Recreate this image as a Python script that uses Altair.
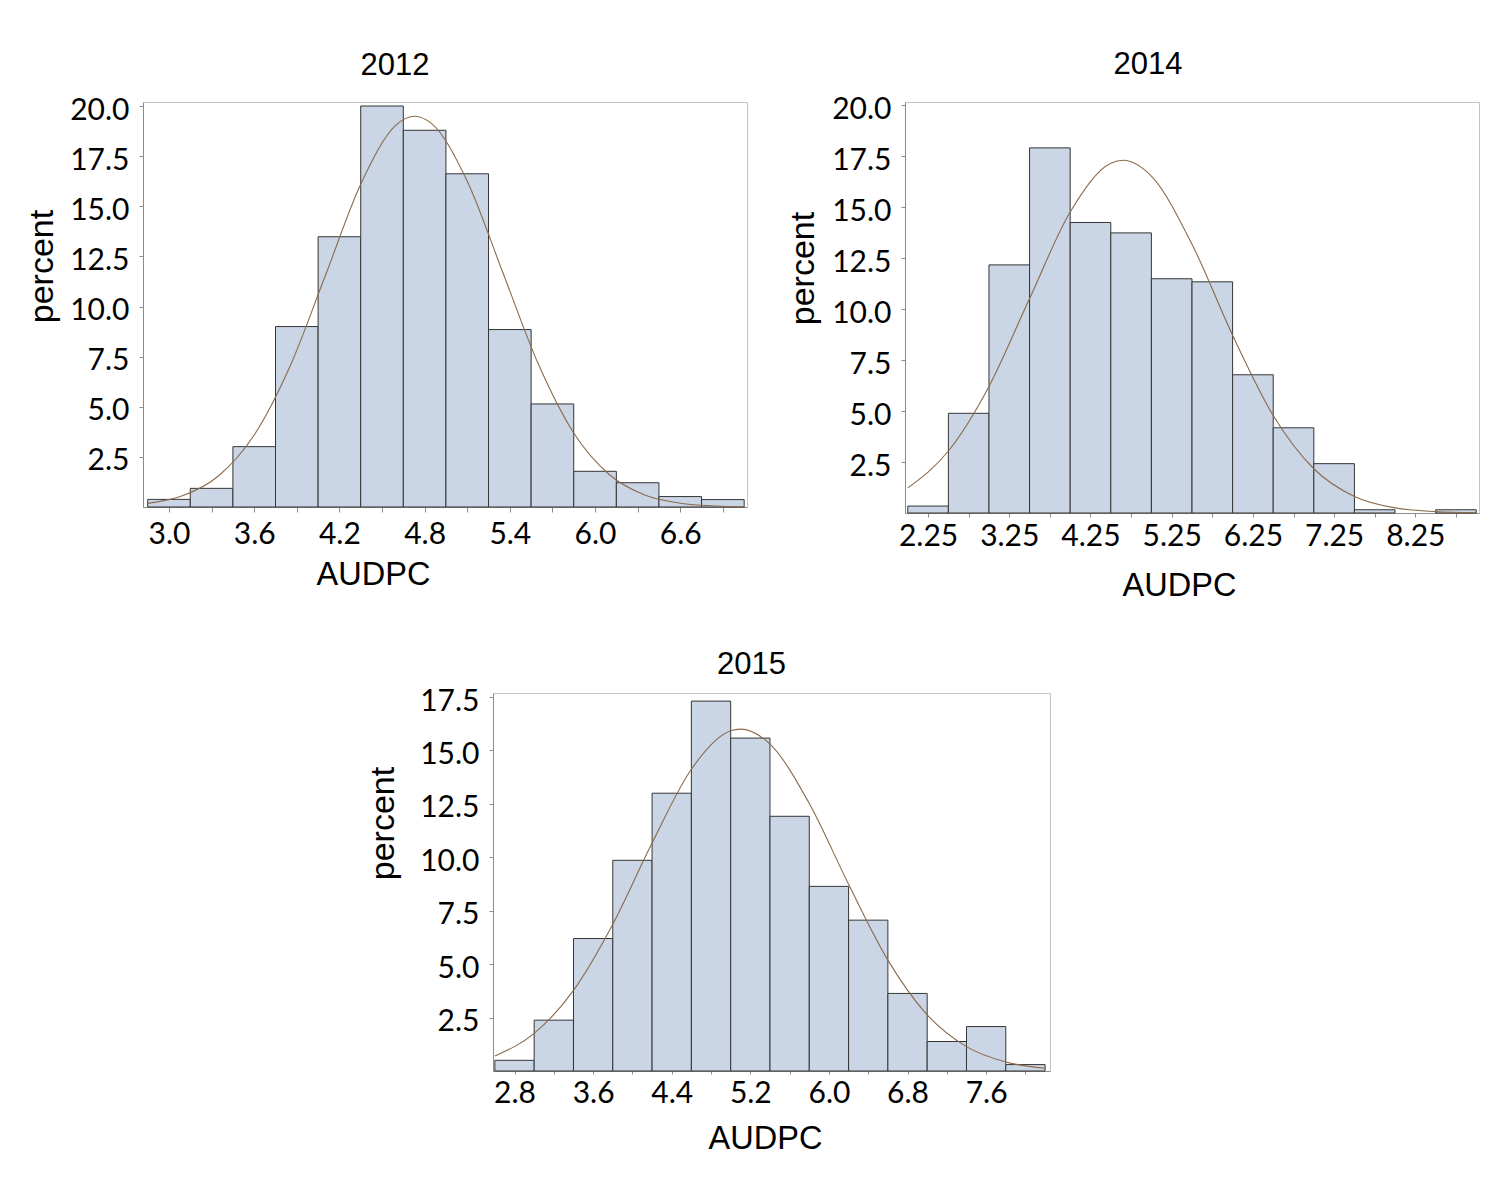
import altair as alt
import pandas as pd

# ---------------- data ----------------
years = ["2012", "2014", "2015"]
bin_widths = [0.3, 0.5, 0.4]

centers_2012 = [3.0, 3.3, 3.6, 3.9, 4.2, 4.5, 4.8, 5.1, 5.4, 5.7, 6.0, 6.3, 6.6, 6.9]
pct_2012 = [0.38, 0.93, 3.01, 9.0, 13.48, 20.0, 18.79, 16.62, 8.85, 5.14, 1.78, 1.21, 0.52, 0.37]
xlabels_2012 = [3.0, 3.6, 4.2, 4.8, 5.4, 6.0, 6.6]
curve_x_2012 = [2.85, 3.1, 3.35, 3.6, 3.85, 4.1, 4.35, 4.6, 4.73, 4.85, 5.1, 5.35, 5.6, 5.85, 6.1, 6.35, 6.6, 6.85, 7.05]
curve_y_2012 = [0.18, 0.57, 1.56, 3.59, 6.98, 11.52, 16.10, 19.06, 19.49, 19.12, 16.25, 11.71, 7.14, 3.69, 1.62, 0.60, 0.19, 0.05, 0.01]

centers_2014 = [2.25, 2.75, 3.25, 3.75, 4.25, 4.75, 5.25, 5.75, 6.25, 6.75, 7.25, 7.75, 8.25, 8.75]
pct_2014 = [0.34, 4.89, 12.17, 17.91, 14.25, 13.74, 11.49, 11.34, 6.78, 4.18, 2.42, 0.16, 0.0, 0.16]
xlabels_2014 = [2.25, 3.25, 4.25, 5.25, 6.25, 7.25, 8.25]
curve_x_2014 = [2.0, 2.5, 3.0, 3.5, 4.0, 4.5, 4.65, 5.0, 5.5, 6.0, 6.5, 7.0, 7.5, 8.0, 8.5, 9.0]
curve_y_2014 = [1.23, 3.04, 6.21, 10.52, 14.76, 17.15, 17.3, 16.52, 13.18, 8.72, 4.78, 2.17, 0.81, 0.25, 0.07, 0.01]

centers_2015 = [2.8, 3.2, 3.6, 4.0, 4.4, 4.8, 5.2, 5.6, 6.0, 6.4, 6.8, 7.2, 7.6, 8.0]
pct_2015 = [0.5, 2.38, 6.2, 9.86, 13.0, 17.31, 15.58, 11.92, 8.64, 7.06, 3.63, 1.38, 2.08, 0.30]
xlabels_2015 = [2.8, 3.6, 4.4, 5.2, 6.0, 6.8, 7.6]
curve_x_2015 = [2.6, 3.0, 3.4, 3.8, 4.2, 4.6, 5.0, 5.1, 5.4, 5.8, 6.2, 6.6, 7.0, 7.4, 7.8, 8.2]
curve_y_2015 = [0.70, 1.76, 3.77, 6.87, 10.67, 14.12, 15.92, 16.0, 15.30, 12.52, 8.74, 5.19, 2.63, 1.14, 0.42, 0.13]

yticks_2012 = [2.5, 5.0, 7.5, 10.0, 12.5, 15.0, 17.5, 20.0]
yticks_2014 = [2.5, 5.0, 7.5, 10.0, 12.5, 15.0, 17.5, 20.0]
yticks_2015 = [2.5, 5.0, 7.5, 10.0, 12.5, 15.0, 17.5]

FILL = "#cad5e5"
EDGE = "#353535"
CURVE = "#8b6b4b"
TICKFONT = "Lato"
TEXTFONT = "Liberation Sans"


def panel(title, centers, pct, bw, cx, cy, xlabels, yticks, xfmt,
          xdom, ydom, w, h, t_dx, t_off,
          xt_x, xt_y, yt_x, yt_y, x_tick, x_lp):
    bars_df = pd.DataFrame({
        "lo": [c - bw / 2 for c in centers],
        "hi": [c + bw / 2 for c in centers],
        "pct": pct,
    })
    curve_df = pd.DataFrame({"cx": cx, "cy": cy})

    lab = ",".join(repr(v) for v in xlabels)
    xaxis = alt.Axis(
        values=centers,
        labelExpr=f"indexof([{lab}], datum.value) >= 0 ? format(datum.value, '{xfmt}') : ''",
        title="AUDPC", titleX=xt_x, titleY=xt_y, titleBaseline="alphabetic",
        titleAlign="center", titleFont=TEXTFONT, titleFontSize=32.5,
        titleFontWeight="normal", titleColor="black",
        tickSize=x_tick, labelPadding=x_lp, labelBaseline="alphabetic",
        labelFlush=False, labelOverlap=False, grid=False,
        labelFont=TICKFONT, labelFontSize=30, labelColor="black",
        domainColor="#8c8c8c", tickColor="#8c8c8c",
    )
    yaxis = alt.Axis(
        values=yticks, format=".1f",
        title="percent", titleX=yt_x, titleY=yt_y, titleBaseline="alphabetic",
        titleAlign="center", titleAngle=270, titleFont=TEXTFONT,
        titleFontSize=34, titleFontWeight="normal", titleColor="black",
        tickSize=4, labelPadding=10, labelOffset=4,
        labelFlush=False, labelOverlap=False, grid=False,
        labelFont=TICKFONT, labelFontSize=30, labelColor="black",
        domainColor="#8c8c8c", tickColor="#8c8c8c",
    )
    xscale = alt.Scale(domain=xdom, nice=False, zero=False)
    yscale = alt.Scale(domain=ydom, nice=False, zero=False)

    bars = alt.Chart(bars_df).transform_filter("datum.pct > 0").mark_rect(
        fill=FILL, stroke=EDGE, strokeWidth=1
    ).encode(
        x=alt.X("lo:Q", scale=xscale, axis=xaxis),
        x2="hi:Q",
        y=alt.Y("pct:Q", scale=yscale, axis=yaxis),
        y2=alt.datum(0),
    )
    curve = alt.Chart(curve_df).mark_line(
        color=CURVE, strokeWidth=1.1, interpolate="monotone"
    ).encode(
        x=alt.X("cx:Q", scale=xscale, axis=xaxis),
        y=alt.Y("cy:Q", scale=yscale, axis=yaxis),
    )
    return alt.layer(bars, curve).properties(
        width=w, height=h,
        title=alt.TitleParams(
            text=title, anchor="middle", dx=t_dx, offset=t_off,
            baseline="alphabetic", frame="group",
            font=TEXTFONT, fontSize=31, fontWeight="normal", color="black",
        ),
    )


p1 = panel(years[0], centers_2012, pct_2012, bin_widths[0], curve_x_2012, curve_y_2012,
           xlabels_2012, yticks_2012, ".1f", [2.817, 7.07], [0, 20.2], 604, 405,
           -50, -10.9, 230, 77.3, -91, 164, 5, 31)
p2 = panel(years[1], centers_2014, pct_2014, bin_widths[1], curve_x_2014, curve_y_2014,
           xlabels_2014, yticks_2014, ".2f", [1.966, 9.034], [0, 20.16], 574, 411,
           -44, -11.2, 274, 82.4, -92, 166, 4, 28)
p3 = panel(years[2], centers_2015, pct_2015, bin_widths[2], curve_x_2015, curve_y_2015,
           xlabels_2015, yticks_2015, ".1f", [2.581, 8.25], [0, 17.69], 557, 378,
           -20, -19.1, 272, 77.6, -100, 130, 3, 28)

spacer = alt.Chart(pd.DataFrame({"v": [0]})).mark_point(opacity=0).encode(
    x=alt.X("v:Q", axis=None), y=alt.Y("v:Q", axis=None)
).properties(width=340, height=10, view=alt.ViewBackground(stroke="transparent"))

top = alt.hconcat(p1, p2, spacing=158, bounds="flush")
bottom = alt.hconcat(spacer, p3, spacing=10, bounds="flush")

chart = alt.vconcat(top, bottom, spacing=45).properties(
    padding={"left": 16, "top": 40, "right": 5, "bottom": 5},
    background="white",
).configure_view(
    stroke="#c4c4c4", strokeWidth=1
)

chart.save("out.html", embed_options={"renderer": "svg", "actions": False})
